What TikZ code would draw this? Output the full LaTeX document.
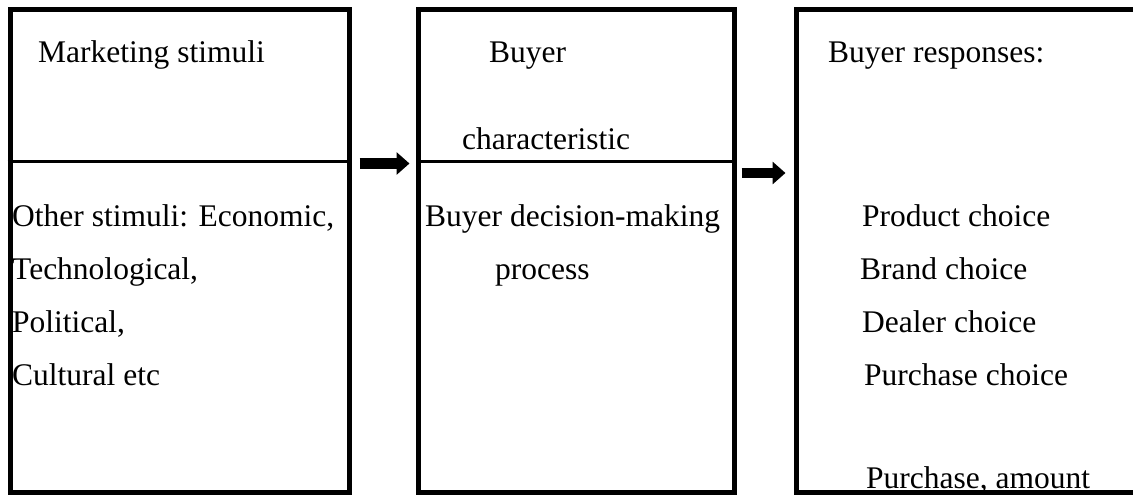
\documentclass[tikz,border=0pt]{standalone}
\usepackage{fontspec}
\setmainfont{Liberation Serif}
\usetikzlibrary{arrows.meta}

\begin{document}
\begin{tikzpicture}[x=1pt, y=-1pt,
        box/.style={rectangle, draw=black, line width=5pt, inner sep=0pt, minimum width=#1, minimum height=482.5pt},
        divider/.style={draw=black, line width=3pt},
        txt/.style={anchor=base west, inner sep=0pt, font=\fontsize{31.5pt}{38pt}\selectfont},
        arrow/.style={-{Triangle[length=13pt, width=22pt]}, line width=10.5pt}]

        \useasboundingbox (0,0) rectangle (1133,495);

        % texts
        \node (mkt) [txt] at (38,63) {Marketing stimuli};
        \node (oth1) [txt] at (12,226) {Other stimuli: Economic,};
        \node (oth2) [txt] at (12,279) {Technological,};
        \node (oth3) [txt] at (12,332) {Political,};
        \node (oth4) [txt] at (12,385) {Cultural etc};

        \node (chr1) [txt] at (489,63) {Buyer};
        \node (chr2) [txt] at (462,149) {characteristic};
        \node (dec1) [txt] at (425,226) {Buyer decision-making};
        \node (dec2) [txt] at (495,279) {process};

        \node (res0) [txt] at (828,63) {Buyer responses:};
        \node (res1) [txt] at (862,226) {Product choice};
        \node (res2) [txt] at (860,279) {Brand choice};
        \node (res3) [txt] at (862,332) {Dealer choice};
        \node (res4) [txt] at (864,385) {Purchase choice};
        \node (res5) [txt] at (866,488) {Purchase, amount};

        % boxes
        \node (stimuli) [box=339.5pt] at (179.75,251.25) {};
        \node (buyer) [box=315.5pt] at (576.25,251.25) {};
        \node (response) [box=344pt] at (968,251.25) {};

        \draw [divider] ([yshift=-154pt]stimuli.north west) -- ([yshift=-154pt]stimuli.north east);
        \draw [divider] ([yshift=-154pt]buyer.north west) -- ([yshift=-154pt]buyer.north east);

        \coordinate (lvlA) at (0,163.5);
        \coordinate (lvlB) at (0,173);
        \draw [arrow] ([xshift=7.5pt]stimuli.east |- lvlA) -- ([xshift=-6.5pt]buyer.west |- lvlA);
        \draw [arrow] ([xshift=5pt]buyer.east |- lvlB) -- ([xshift=-8pt]response.west |- lvlB);
    \end{tikzpicture}
\end{document}
